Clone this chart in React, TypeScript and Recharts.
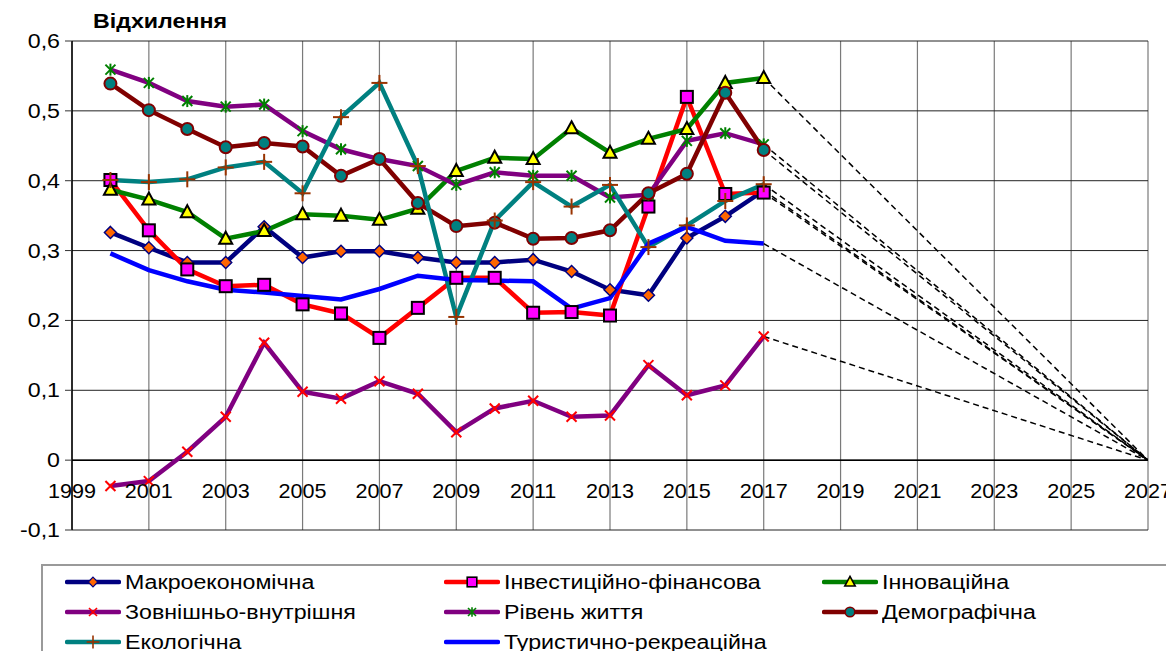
import React from "react";
import {
  LineChart,
  Line,
  XAxis,
  YAxis,
  CartesianGrid,
  ReferenceLine,
} from "recharts";

// ---- data ----
const years = [
  2000, 2001, 2002, 2003, 2004, 2005, 2006, 2007, 2008,
  2009, 2010, 2011, 2012, 2013, 2014, 2015, 2016, 2017,
];

const macroeconomic = [
  0.326, 0.304, 0.283, 0.283, 0.334, 0.29, 0.299, 0.299, 0.29,
  0.283, 0.283, 0.287, 0.27, 0.244, 0.236, 0.318, 0.349, 0.386,
];
const investment = [
  0.401, 0.329, 0.273, 0.249, 0.251, 0.223, 0.21, 0.175, 0.218,
  0.261, 0.261, 0.211, 0.212, 0.207, 0.363, 0.52, 0.381, 0.383,
];
const innovation = [
  0.387, 0.373, 0.355, 0.317, 0.328, 0.352, 0.35, 0.344, 0.36,
  0.414, 0.433, 0.431, 0.475, 0.44, 0.46, 0.474, 0.54, 0.547,
];
const externalInternal = [
  -0.037, -0.03, 0.012, 0.062, 0.168, 0.098, 0.088, 0.113, 0.095,
  0.04, 0.074, 0.085, 0.062, 0.064, 0.136, 0.093, 0.107, 0.177,
];
const livingStandard = [
  0.559, 0.54, 0.514, 0.506, 0.509, 0.471, 0.445, 0.431, 0.421,
  0.394, 0.412, 0.407, 0.407, 0.376, 0.38, 0.457, 0.468, 0.452,
];
const demographic = [
  0.539, 0.501, 0.474, 0.448, 0.454, 0.449, 0.407, 0.431, 0.368,
  0.335, 0.34, 0.317, 0.318, 0.329, 0.382, 0.41, 0.526, 0.444,
];
const ecological = [
  0.401, 0.398, 0.402, 0.419, 0.427, 0.382, 0.491, 0.54, 0.421,
  0.205, 0.343, 0.398, 0.363, 0.394, 0.305, 0.336, 0.371, 0.395,
];
const tourism = [
  0.296, 0.272, 0.256, 0.244, 0.24, 0.235, 0.23, 0.245, 0.264,
  0.258, 0.257, 0.256, 0.217, 0.232, 0.31, 0.334, 0.314, 0.31,
];

// trend target: every series converges to this value in the end year
const trendEndYear = 2027;
const trendEndValue = 0;

const xTicks = [1999, 2001, 2003, 2005, 2007, 2009, 2011, 2013, 2015, 2017, 2019, 2021, 2023, 2025, 2027];
const yTicks = [-0.1, 0, 0.1, 0.2, 0.3, 0.4, 0.5, 0.6];

const titleText = "Відхилення";

type Marker = "diamond" | "square" | "triangle" | "cross" | "asterisk" | "circle" | "plus" | "none";

interface SeriesDef {
  key: string;
  name: string;
  values: number[];
  color: string;
  marker: Marker;
}

const series: SeriesDef[] = [
  { key: "macro", name: "Макроекономічна", values: macroeconomic, color: "#000080", marker: "diamond" },
  { key: "invest", name: "Інвестиційно-фінансова", values: investment, color: "#FF0000", marker: "square" },
  { key: "innov", name: "Інноваційна", values: innovation, color: "#008000", marker: "triangle" },
  { key: "extint", name: "Зовнішньо-внутрішня", values: externalInternal, color: "#800080", marker: "cross" },
  { key: "living", name: "Рівень життя", values: livingStandard, color: "#800080", marker: "asterisk" },
  { key: "demo", name: "Демографічна", values: demographic, color: "#800000", marker: "circle" },
  { key: "eco", name: "Екологічна", values: ecological, color: "#008080", marker: "plus" },
  { key: "tour", name: "Туристично-рекреаційна", values: tourism, color: "#0000FF", marker: "none" },
];

// legend placement: [column, row] for each series, in series order
const legendCells: [number, number][] = [
  [0, 0], [1, 0], [2, 0],
  [0, 1], [1, 1], [2, 1],
  [0, 2], [1, 2],
];

// ---- table for the chart ----
const lastIndex = years.length - 1;
const rows: Record<string, number | null>[] = years.map((yr, i) => {
  const row: Record<string, number | null> = { year: yr };
  series.forEach((s) => {
    row[s.key] = s.values[i];
    row["t_" + s.key] = i === lastIndex ? s.values[i] : null;
  });
  return row;
});
const endRow: Record<string, number | null> = { year: trendEndYear };
series.forEach((s) => {
  endRow[s.key] = null;
  endRow["t_" + s.key] = trendEndValue;
});
rows.push(endRow);

const FONT = "'Liberation Sans', Arial, sans-serif";
const STRETCH = 1.16; // text is drawn slightly widened
const YEAR_STRETCH = 1.08;

// ---- marker glyphs ----
function MarkerShape({ type, cx, cy }: { type: Marker; cx: number; cy: number }) {
  switch (type) {
    case "diamond":
      return (
        <polygon
          points={`${cx},${cy - 6} ${cx + 6},${cy} ${cx},${cy + 6} ${cx - 6},${cy}`}
          fill="#FF6600"
          stroke="#000080"
          strokeWidth={1.5}
        />
      );
    case "square":
      return <rect x={cx - 6} y={cy - 6} width={12} height={12} fill="#FF00FF" stroke="#000" strokeWidth={2} />;
    case "triangle":
      return (
        <polygon
          points={`${cx},${cy - 7} ${cx + 6.5},${cy + 5} ${cx - 6.5},${cy + 5}`}
          fill="#FFFF00"
          stroke="#000"
          strokeWidth={2}
        />
      );
    case "cross":
      return (
        <g stroke="#FF0000" strokeWidth={2}>
          <line x1={cx - 5} y1={cy - 5} x2={cx + 5} y2={cy + 5} />
          <line x1={cx - 5} y1={cy + 5} x2={cx + 5} y2={cy - 5} />
        </g>
      );
    case "asterisk":
      return (
        <g stroke="#008000" strokeWidth={2}>
          <line x1={cx - 5} y1={cy - 5} x2={cx + 5} y2={cy + 5} />
          <line x1={cx - 5} y1={cy + 5} x2={cx + 5} y2={cy - 5} />
          <line x1={cx} y1={cy - 6} x2={cx} y2={cy + 6} />
        </g>
      );
    case "circle":
      return <circle cx={cx} cy={cy} r={6} fill="#008080" stroke="#800000" strokeWidth={2} />;
    case "plus":
      return (
        <g stroke="#993300" strokeWidth={2}>
          <line x1={cx - 8} y1={cy} x2={cx + 8} y2={cy} />
          <line x1={cx} y1={cy - 8} x2={cx} y2={cy + 8} />
        </g>
      );
    default:
      return null;
  }
}

function makeDot(s: SeriesDef) {
  if (s.marker === "none") return false;
  return (props: any) => {
    const { cx, cy, index, value } = props;
    const k = `${s.key}-${index}`;
    if (cx == null || cy == null || value == null) return <g key={k} />;
    return (
      <g key={k}>
        <MarkerShape type={s.marker} cx={cx} cy={cy} />
      </g>
    );
  };
}

const formatY = (v: number) => (v === 0 ? "0" : v.toFixed(1).replace(".", ","));

// year labels sit just under the zero line
function YearTick(props: any) {
  const { x, y, payload } = props;
  return (
    <g transform={`translate(${x},${y - 32})`}>
      <text
        transform={`scale(${YEAR_STRETCH},1)`}
        textAnchor="middle"
        fontSize={20}
        fill="#000"
        fontFamily={FONT}
      >
        {payload.value}
      </text>
    </g>
  );
}

function ValueTick(props: any) {
  const { x, y, payload } = props;
  return (
    <g transform={`translate(${x},${y + 7})`}>
      <text
        transform={`scale(${STRETCH},1)`}
        textAnchor="end"
        fontSize={20}
        fill="#000"
        fontFamily={FONT}
      >
        {formatY(payload.value)}
      </text>
    </g>
  );
}

function Legend() {
  const colX = [22, 401, 779];
  const rowY = [16, 46, 76];
  return (
    <div
      style={{
        position: "absolute",
        left: 33,
        top: 556,
        width: 1128,
        height: 110,
        border: "2px solid #9a9a9a",
        boxSizing: "border-box",
        background: "#fff",
      }}
    >
      {series.map((s, i) => {
        const [c, r] = legendCells[i];
        return (
          <div
            key={s.key}
            style={{
              position: "absolute",
              left: colX[c],
              top: rowY[r] - 13,
              height: 26,
              display: "flex",
              alignItems: "center",
              whiteSpace: "nowrap",
            }}
          >
            <svg width={56} height={26} style={{ display: "block" }}>
              <line x1={2} y1={13} x2={54} y2={13} stroke={s.color} strokeWidth={4.5} strokeLinecap="round" />
              <g transform="translate(28,13) scale(0.8) translate(-28,-13)">
                <MarkerShape type={s.marker} cx={28} cy={13} />
              </g>
            </svg>
            <span
              style={{
                display: "inline-block",
                fontFamily: FONT,
                fontSize: 20,
                color: "#000",
                marginLeft: 4,
                transform: `scaleX(${STRETCH})`,
                transformOrigin: "left center",
              }}
            >
              {s.name}
            </span>
          </div>
        );
      })}
    </div>
  );
}

export default function App() {
  return (
    <div style={{ position: "relative", width: 1166, height: 643 }}>
      <style>{"html, body { overflow: hidden; }"}</style>
      <LineChart
        width={1166}
        height={643}
        data={rows}
        margin={{ top: 33, right: 26, bottom: 91, left: 0 }}
      >
        <CartesianGrid horizontal={false} stroke="#7a7a7a" strokeWidth={1.2} />
        <CartesianGrid vertical={false} stroke="#222" strokeWidth={1} />
        <XAxis
          dataKey="year"
          type="number"
          domain={[1999, 2027]}
          ticks={xTicks}
          allowDataOverflow
          axisLine={false}
          tickLine={false}
          tickSize={0}
          tickMargin={0}
          height={30}
          tick={<YearTick />}
          interval={0}
        />
        <YAxis
          type="number"
          domain={[-0.1, 0.6]}
          ticks={yTicks}
          allowDataOverflow
          width={64}
          axisLine={{ stroke: "#000", strokeWidth: 1.5 }}
          tickLine={{ stroke: "#333" }}
          tickSize={7}
          tickMargin={5}
          tick={<ValueTick />}
          interval={0}
        />
        <ReferenceLine y={0} stroke="#000" strokeWidth={1.5} />
        {series.map((s) => (
          <Line
            key={s.key}
            type="linear"
            dataKey={s.key}
            name={s.name}
            stroke={s.color}
            strokeWidth={4.5}
            dot={makeDot(s)}
            activeDot={false}
            isAnimationActive={false}
            connectNulls={false}
          />
        ))}
        {series.map((s) => (
          <Line
            key={"t_" + s.key}
            type="linear"
            dataKey={"t_" + s.key}
            stroke="#000"
            strokeWidth={1.5}
            strokeDasharray="6 4"
            dot={false}
            activeDot={false}
            legendType="none"
            isAnimationActive={false}
            connectNulls
          />
        ))}
      </LineChart>
      <div
        style={{
          position: "absolute",
          left: 85,
          top: 2,
          fontFamily: FONT,
          fontWeight: "bold",
          fontSize: 20,
          color: "#000",
          whiteSpace: "nowrap",
          transform: `scaleX(${STRETCH})`,
          transformOrigin: "left center",
        }}
      >
        {titleText}
      </div>
      <Legend />
    </div>
  );
}
